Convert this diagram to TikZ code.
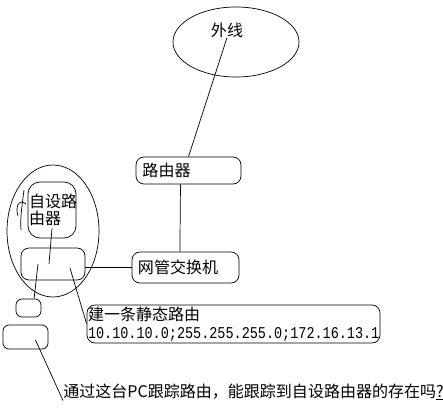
\documentclass[tikz,border=0pt]{standalone}
\usepackage{fontspec}
\setmainfont{Noto Sans CJK SC}
\newfontfamily\ipfont[FakeStretch=0.82]{Liberation Mono}
\usepackage{tikz}
\usetikzlibrary{shapes.geometric}

\tikzset{
  box/.style={draw, rounded corners=0.2cm, line width=0.5pt},
  cloud/.style={draw, ellipse, line width=0.5pt},
  wire/.style={line width=0.5pt}
}

\begin{document}
\begin{tikzpicture}[font=\fontsize{11.4pt}{12.5pt}\selectfont]
\useasboundingbox (0,0) rectangle (11.075,10.35);
% outside line
\node (wan) at (5.9,9.3) [cloud, minimum width=3.15cm, minimum height=1.75cm] {};
\node (wantext) at (5.675,9.6) [inner sep=0pt] {外线};
% router and switch
\node (router) at (4.7125,6.0875) [box, minimum width=2.625cm, minimum height=0.675cm, text width=2.3cm, align=left] {路由器};
\node (switch) at (4.6375,3.6625) [box, minimum width=2.675cm, minimum height=0.775cm, text width=2.375cm, align=left] {网管交换机};
\draw [wire] (wantext.south) -- (router.north);
\draw [wire] ([xshift=-0.2cm]router.south) -- ([xshift=-0.14cm]switch.north);
% own router group
\node (group) at (1.325,4.575) [cloud, minimum width=2.3cm, minimum height=3.3cm] {};
\node (selfrouter) at (1.3,5.1) [box, rounded corners=0.3cm, minimum width=1.2cm, minimum height=1.4cm, inner sep=0pt, text width=1.15cm, align=left] {自设路\\由器};
\node (dev) at (1.325,3.75) [box, minimum width=1.6cm, minimum height=0.8cm] {};
\draw [wire] (0.6,5.6) .. controls (0.55,5.2) and (0.5,4.9) .. (0.525,4.6);
\draw [wire] (0.45,4.95) .. controls (0.38,5.15) and (0.45,5.4) .. (0.65,5.25);
\draw [wire] ([yshift=0.25cm]selfrouter.south) -- ([xshift=-0.1cm]dev.center);
\draw [wire] (switch.west) -- (switch.west -| dev.east);
% small boxes
\node (small) at (0.7125,2.65) [box, rounded corners=0.15cm, minimum width=0.625cm, minimum height=0.45cm] {};
\node (pc) at (0.6375,1.925) [box, rounded corners=0.15cm, minimum width=1.125cm, minimum height=0.6cm] {};
\draw [wire] ([xshift=-0.375cm]dev.center) -- ([xshift=0.14cm]small.north);
% static route note
\node (route) at (5.8375,2.25) [box, minimum width=7.325cm, minimum height=0.95cm, inner xsep=0.025cm, inner ysep=0pt, text width=7.275cm, align=left, font=\fontsize{11.4pt}{12.8pt}\selectfont] {建一条静态路由\\{\ipfont\fontsize{11.7pt}{12.8pt}\selectfont 10.10.10.0;255.255.255.0;172.16.13.1}};
\draw [wire] ([xshift=0.425cm,yshift=-0.1cm]dev.center) -- (route.west);
% question
\node (question) at (1.575,0.55) [anchor=west, inner sep=0pt] {通过这台PC跟踪路由，能跟踪到自设路由器的存在吗\underline{?}};
\draw [wire] ([xshift=0.25cm,yshift=-0.075cm]pc.center) -- (question.south west);
\end{tikzpicture}
\end{document}
